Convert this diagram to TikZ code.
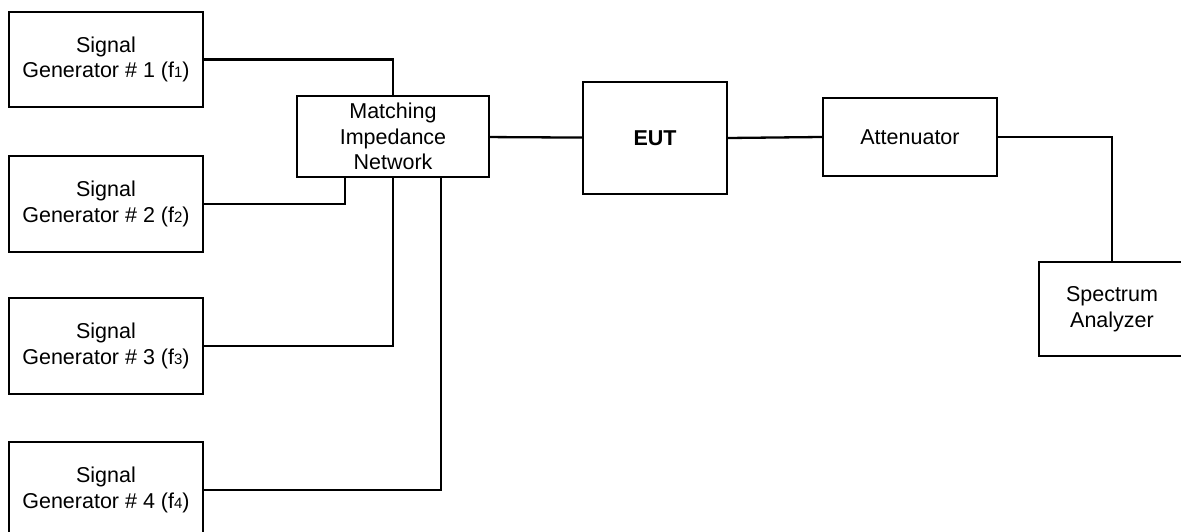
\documentclass[tikz,border=0pt]{standalone}
\usepackage{fontspec}
\setmainfont{Liberation Sans}
\newcommand{\fsub}[1]{{\fontsize{15}{15}\selectfont #1}}

\begin{document}
\begin{tikzpicture}[x=1pt,y=-1pt,line cap=rect,line join=miter,
    unit/.style={draw,line width=2.3pt,inner sep=2pt,align=center,
      font=\fontsize{21.5}{25.5}\selectfont},
    wire/.style={line width=2.3pt}]
  \useasboundingbox (0,0) rectangle (1181,532);

  \node[unit,minimum width=194pt,minimum height=95pt] (gen1) at (106,59.5) {Signal\\Generator \# 1 (f\fsub{1})};
  \node[unit,minimum width=194pt,minimum height=96pt] (gen2) at (106,204) {Signal\\Generator \# 2 (f\fsub{2})};
  \node[unit,minimum width=194pt,minimum height=96pt] (gen3) at (106,346) {Signal\\Generator \# 3 (f\fsub{3})};
  \node[unit,minimum width=194pt,minimum height=96pt] (gen4) at (106,490) {Signal\\Generator \# 4 (f\fsub{4})};

  \node[unit,minimum width=192pt,minimum height=81pt] (match) at (393,136.5) {Matching\\Impedance\\Network};
  \node[unit,minimum width=144pt,minimum height=112pt,font=\fontsize{21.5}{25.5}\selectfont\bfseries] (eut) at (655,138) {EUT};
  \node[unit,minimum width=174pt,minimum height=78pt] (att) at (910,137) {Attenuator};
  \node[unit,minimum width=146pt,minimum height=94pt] (sa) at (1112,309) {Spectrum\\Analyzer};

  \draw[wire] (gen1.east) -| (match.north);
  \draw[wire] (gen2.east) -| ([xshift=-48pt]match.south);
  \draw[wire] (gen3.east) -| (match.south);
  \draw[wire] (gen4.east) -| ([xshift=48pt]match.south);
  \draw[wire] (match) -- (eut);
  \draw[wire] (eut.east) -- (att.west);
  \draw[wire] (att.east) -| (sa.north);
\end{tikzpicture}
\end{document}
